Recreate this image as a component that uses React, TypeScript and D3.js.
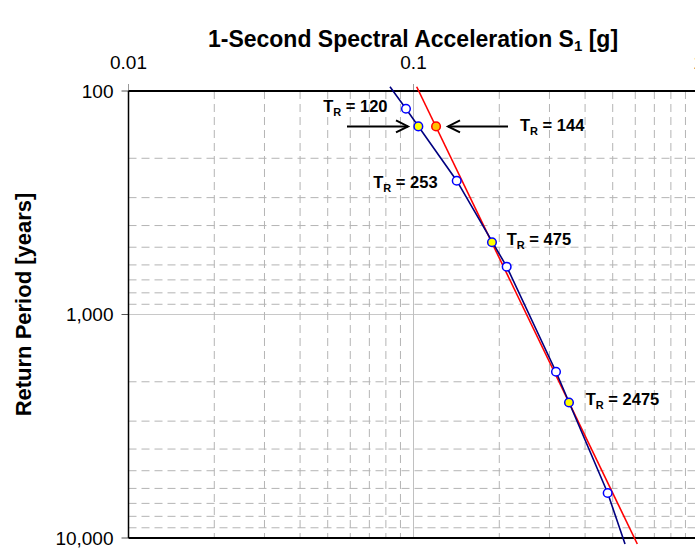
import React from "react";
import * as d3 from "d3";

// ---- data ----
const xTickValues = [0.01, 0.1, 1];
const xTickLabels = ["0.01", "0.1", "1"];
const yTickValues = [100, 1000, 10000];
const yTickLabels = ["100", "1,000", "10,000"];

// hazard curve (blue): spectral acceleration [g] vs return period [years]
const hazardSa = [0.0827, 0.0941, 0.1418, 0.2123, 0.3162, 0.4801, 0.5523];
const hazardTR = [95.7, 120, 252, 611, 1803, 6290, 10640];
const hazardMarked = [false, true, true, true, true, true, false];

// fitted straight line (red)
const fitSa = [0.1026, 0.6099];
const fitTR = [95.7, 10640];

// interpolated points (yellow)
const interpSa = [0.104, 0.1885, 0.3512];
const interpTR = [144, 475, 2475];

// point on fitted line (orange)
const fitPointSa = [0.12];
const fitPointTR = [144];

// annotations (anchor of text start / baseline)
const annotationText = ["120", "144", "253", "475", "2475"];
const annotationSa = [0.0482, 0.2364, 0.0722, 0.2123, 0.4021];
const annotationTR = [124.2, 151, 271.6, 488.7, 2541];

const FONT = "'Liberation Sans', Arial, Helvetica, sans-serif";

export default function App() {
  const W = 695;
  const H = 552;
  const x = d3.scaleLog().domain([0.01, 1]).range([128.5, 698.5]);
  const y = d3.scaleLog().domain([100, 10000]).range([91, 538]);

  const minorX: number[] = [];
  [0.01, 0.1].forEach((d) => {
    for (let k = 2; k <= 9; k++) minorX.push(d * k);
  });
  const minorY: number[] = [];
  [100, 1000].forEach((d) => {
    for (let k = 2; k <= 9; k++) minorY.push(d * k);
  });

  const line = d3
    .line<[number, number]>()
    .x((d) => x(d[0]))
    .y((d) => y(d[1]));

  const hazardPts: [number, number][] = hazardSa.map((s, i) => [s, hazardTR[i]]);
  const fitPts: [number, number][] = fitSa.map((s, i) => [s, fitTR[i]]);

  const gridColor = "#b4b4b4";
  const left = x(0.01);
  const right = W + 5;
  const top = y(100);
  const bottom = y(10000);

  const arrowY = y(144);

  return (
    <svg
      width={W}
      height={H}
      style={{ position: "absolute", left: 0, top: 0, background: "#fff" }}
      fontFamily={FONT}
    >
      <rect x={0} y={0} width={W} height={H} fill="#fff" />
      {/* horizontal grid */}
      {minorY.map((v, i) => (
        <line
          key={"hy" + i}
          x1={left}
          x2={right}
          y1={y(v)}
          y2={y(v)}
          stroke={gridColor}
          strokeWidth={1}
          strokeDasharray="8,5"
        />
      ))}
      <line x1={left} x2={right} y1={y(1000)} y2={y(1000)} stroke="#c8c8c8" strokeWidth={1} />
      {/* vertical grid */}
      {minorX.map((v, i) => (
        <line
          key={"vx" + i}
          x1={x(v)}
          x2={x(v)}
          y1={top}
          y2={bottom}
          stroke={gridColor}
          strokeWidth={1}
          strokeDasharray="8,5"
        />
      ))}
      <line x1={x(0.1)} x2={x(0.1)} y1={top - 7} y2={bottom} stroke="#c0c0c0" strokeWidth={1} />

      {/* axes */}
      {xTickValues.map((v, i) => (
        <line key={"xt" + i} x1={x(v)} x2={x(v)} y1={top - 7} y2={top} stroke="#999" strokeWidth={1} />
      ))}
      {yTickValues.map((v, i) => (
        <line key={"yt" + i} x1={left - 7} x2={left} y1={y(v)} y2={y(v)} stroke="#555" strokeWidth={1} />
      ))}
      <line x1={left} x2={right} y1={top} y2={top} stroke="#000" strokeWidth={2} />
      <line x1={left} x2={right} y1={bottom} y2={bottom} stroke="#000" strokeWidth={2} />
      <line x1={left} x2={left} y1={top} y2={bottom} stroke="#000" strokeWidth={1.5} />

      {/* tick labels */}
      {xTickValues.map((v, i) => (
        <text key={"xl" + i} x={x(v)} y={69} textAnchor="middle" fontSize={19} fill="#000">
          {xTickLabels[i]}
        </text>
      ))}
      {yTickValues.map((v, i) => (
        <text
          key={"yl" + i}
          x={left - 15}
          y={y(v)}
          dy="0.35em"
          textAnchor="end"
          fontSize={19}
          fill="#000"
        >
          {yTickLabels[i]}
        </text>
      ))}

      {/* titles */}
      <text x={413} y={47} textAnchor="middle" fontSize={23} fontWeight="bold" fill="#000">
        1-Second Spectral Acceleration S<tspan fontSize={15} dy={4}>1</tspan>
        <tspan dy={-4}> [g]</tspan>
      </text>
      <text
        transform={`translate(31, ${(top + bottom) / 2 - 10}) rotate(-90)`}
        textAnchor="middle"
        fontSize={22}
        fontWeight="bold"
        fill="#000"
      >
        Return Period [years]
      </text>

      {/* lines */}
      <path d={line(fitPts) || ""} fill="none" stroke="#ff0000" strokeWidth={1.6} />
      <path d={line(hazardPts) || ""} fill="none" stroke="#000080" strokeWidth={1.6} />

      {/* markers */}
      {hazardPts.map((p, i) =>
        hazardMarked[i] ? (
          <circle
            key={"hm" + i}
            cx={x(p[0])}
            cy={y(p[1])}
            r={4.3}
            fill="#fff"
            stroke="#0000ff"
            strokeWidth={1.5}
          />
        ) : null
      )}
      {interpSa.map((s, i) => (
        <circle
          key={"ip" + i}
          cx={x(s)}
          cy={y(interpTR[i])}
          r={4.3}
          fill="#ffff00"
          stroke="#0000ff"
          strokeWidth={1.5}
        />
      ))}
      {fitPointSa.map((s, i) => (
        <circle
          key={"fp" + i}
          cx={x(s)}
          cy={y(fitPointTR[i])}
          r={4.3}
          fill="#ffc000"
          stroke="#ff0000"
          strokeWidth={1.5}
        />
      ))}

      {/* arrows */}
      <g stroke="#000" strokeWidth={2} fill="none">
        <line x1={347} x2={408} y1={arrowY} y2={arrowY} />
        <polyline points={`${396},${arrowY - 6} ${408},${arrowY} ${396},${arrowY + 6}`} />
        <line x1={448} x2={508} y1={arrowY} y2={arrowY} />
        <polyline points={`${460},${arrowY - 6} ${448},${arrowY} ${460},${arrowY + 6}`} />
      </g>

      {/* annotations */}
      {annotationText.map((t, i) => (
        <text
          key={"an" + i}
          x={x(annotationSa[i])}
          y={y(annotationTR[i])}
          fontSize={16.5}
          fontWeight="bold"
          fill="#000"
        >
          T<tspan fontSize={11} dy={4}>R</tspan>
          <tspan dy={-4}> = {t}</tspan>
        </text>
      ))}
    </svg>
  );
}
